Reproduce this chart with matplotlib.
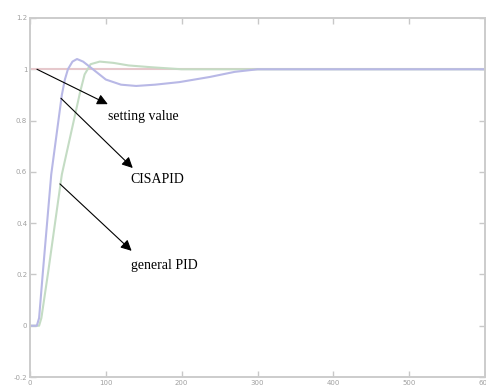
import matplotlib
matplotlib.use('Agg')
import matplotlib.pyplot as plt

# step responses
t_cis = [0, 9, 12, 17, 28, 42, 46, 50, 56, 62, 70, 83, 100, 120, 140, 165, 197, 237, 270, 300, 600]
y_cis = [0, 0, 0.03, 0.21, 0.59, 0.9, 0.96, 1.0, 1.03, 1.04, 1.03, 1.0, 0.96, 0.94, 0.935, 0.94, 0.95, 0.97, 0.99, 1.0, 1.0]

t_pid = [0, 12, 15, 24, 42, 66, 72, 80, 92, 110, 130, 160, 200, 600]
y_pid = [0, 0, 0.03, 0.21, 0.59, 0.91, 0.98, 1.02, 1.03, 1.025, 1.015, 1.008, 1.0, 1.0]

t_set = [0, 600]
y_set = [1, 1]

xticks = [0, 100, 200, 300, 400, 500, 600]
yticks = [-0.2, 0, 0.2, 0.4, 0.6, 0.8, 1, 1.2]
ylabels = ['-0.2', '0', '0.2', '0.4', '0.6', '0.8', '1', '1.2']

fig = plt.figure(figsize=(4.86, 3.86), dpi=100)
ax = fig.add_axes([30/486, 9/386, 455/486, 359/386])

ax.plot(t_set, y_set, color='#e6c8cc', lw=1.5)
ax.plot(t_pid, y_pid, color='#c4dcc4', lw=1.5)
ax.plot(t_cis, y_cis, color='#b8b8e6', lw=1.5)

ax.set_xlim(0, 600)
ax.set_ylim(-0.2, 1.2)
ax.set_xticks(xticks)
ax.set_yticks(yticks)
ax.set_yticklabels(ylabels)
ax.tick_params(direction='in', length=4, width=1, colors='#c8c8c8', labelcolor='#a0a0a0',
               labelsize=5, top=True, right=True, pad=2)
for s in ax.spines.values():
    s.set_color('#cccccc')
    s.set_linewidth(1.4)

serif = ['Liberation Serif', 'DejaVu Serif']
arr = dict(arrowstyle='-|>', color='k', lw=0.8, mutation_scale=16, shrinkA=0, shrinkB=0)
ax.annotate('', xy=(102.6, 0.864), xytext=(9.2, 1.0), arrowprops=arr)
ax.annotate('', xy=(135.5, 0.615), xytext=(40.8, 0.887), arrowprops=arr)
ax.annotate('', xy=(134, 0.292), xytext=(39.5, 0.553), arrowprops=arr)

ax.text(102.6, 0.817, 'setting value', family=serif, fontsize=10, va='center')
ax.text(133, 0.572, 'CISAPID', family=serif, fontsize=10, va='center')
ax.text(133, 0.233, 'general PID', family=serif, fontsize=10, va='center')

fig.savefig('out.png', dpi=100)
